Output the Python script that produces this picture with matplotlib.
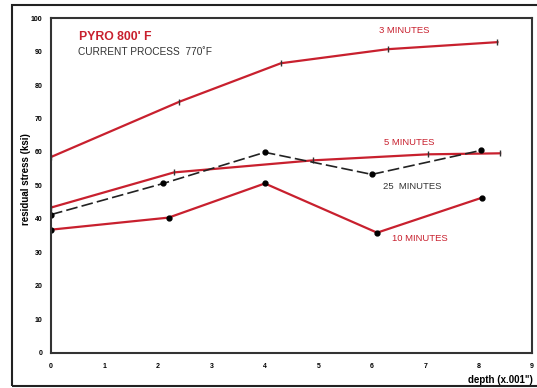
import matplotlib.pyplot as plt
from matplotlib.patches import Rectangle

plt.rcParams['font.family'] = ['Liberation Sans', 'DejaVu Sans']

# depth (x.001") and residual stress (ksi)
depth_3 = [0, 2.4, 4.3, 6.3, 8.35]
stress_3 = [58.5, 75, 86.5, 90.7, 92.8]

depth_5 = [0, 2.3, 4.9, 7.05, 8.4]
stress_5 = [43.4, 53.9, 57.5, 59.3, 59.6]

depth_25 = [0, 2.1, 4.0, 6.0, 8.05]
stress_25 = [41.3, 50.6, 59.9, 53.3, 60.5]

depth_10 = [0, 2.2, 4.0, 6.1, 8.07]
stress_10 = [36.8, 40.4, 50.6, 35.9, 46.4]

x_ticks = list(range(0, 10))
y_ticks = list(range(0, 101, 10))

red = '#c8202e'

fig = plt.figure(figsize=(5.37, 3.88), dpi=100)
ax = fig.add_axes([0.095, 0.0905, 0.896, 0.863])

# outer border of the scanned figure
fig.patches.append(Rectangle((0.022, 0.006), 1.0, 0.981, transform=fig.transFigure,
                             fill=False, edgecolor='#222222', linewidth=1.5))

ax.plot(depth_3, stress_3, color=red, lw=1.6, marker='|', ms=5, mec='#333333')
ax.plot(depth_5, stress_5, color=red, lw=1.6, marker='|', ms=5, mec='#333333')
ax.plot(depth_25, stress_25, color='#222222', lw=1.2, ls=(0, (7, 2.5)),
        marker='o', ms=3.5, mfc='black', mec='black')
ax.plot(depth_10, stress_10, color=red, lw=1.6, marker='o', ms=3.5, mfc='black', mec='black')

ax.text(0.52, 93.5, "PYRO 800' F", color=red, fontsize=8.8, fontweight='bold')
ax.text(0.50, 89.0, "CURRENT PROCESS  770\u02daF", color='#333333', fontsize=7.3)
ax.text(6.6, 95.5, "3 MINUTES", color=red, fontsize=6.8, ha='center')
ax.text(6.7, 62.2, "5 MINUTES", color=red, fontsize=6.8, ha='center')
ax.text(6.75, 49.0, "25  MINUTES", color='#333333', fontsize=6.8, ha='center')
ax.text(6.9, 33.4, "10 MINUTES", color=red, fontsize=6.8, ha='center')

ax.set_xlim(0, 9)
ax.set_ylim(0, 100)
ax.set_xticks(x_ticks)
ax.set_yticks(y_ticks)
ax.tick_params(axis='y', length=0, labelsize=5, pad=6)
ax.tick_params(axis='x', length=0, labelsize=5, pad=7)
for lab in ax.get_xticklabels() + ax.get_yticklabels():
    lab.set_fontweight('bold')
for sp in ax.spines.values():
    sp.set_linewidth(1.5)
    sp.set_color('#333333')

ax.set_xlabel('depth (x.001")', fontsize=7, fontweight='bold')
ax.xaxis.set_label_coords(0.935, -0.066)
ax.set_ylabel('residual stress (ksi)', fontsize=7, fontweight='bold')
ax.yaxis.set_label_coords(-0.042, 0.52)

fig.savefig('out.png', dpi=100)
